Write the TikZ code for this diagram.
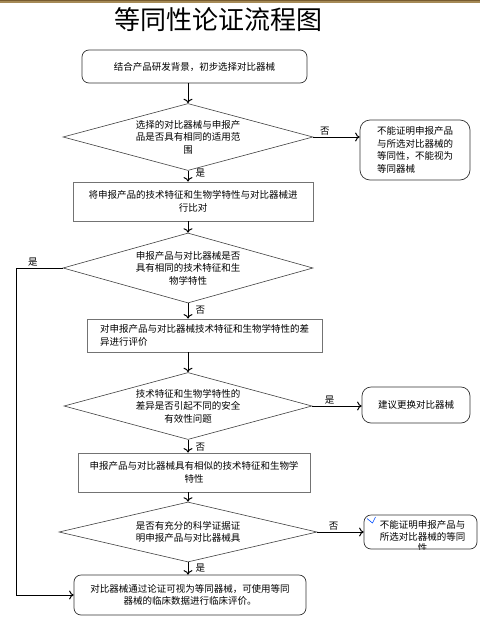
\documentclass[tikz,border=0pt]{standalone}
\usepackage{fontspec}
\setmainfont{Noto Sans CJK SC}
\usetikzlibrary{arrows.meta,shapes.geometric}

\definecolor{barbrown}{RGB}{165,138,86}
\definecolor{bardark}{RGB}{120,92,48}
\definecolor{boxgray}{RGB}{115,115,115}

\tikzset{
  txt/.style={font=\fontsize{9.5}{12.5}\selectfont, align=center},
  terminal/.style={txt, draw=black!80, line width=0.7pt, rounded corners=7pt, inner sep=0pt},
  process/.style={txt, draw=boxgray, line width=0.8pt, inner sep=0pt},
  decision/.style={txt, diamond, draw=black!75, line width=0.6pt, aspect=3.7, inner sep=0pt},
  flow/.style={-{To[length=4.5pt,width=9pt]}, line width=1pt},
  lbl/.style={font=\fontsize{9.5}{11}\selectfont, inner sep=1pt}
}

\begin{document}
\begin{tikzpicture}[x=1pt,y=-1pt]
\useasboundingbox (0,0) rectangle (480,619);
\fill[bardark] (0,0) rectangle (480,1);
\fill[barbrown] (0,1) rectangle (480,2.6);

\node (title) at (218,20) {\fontsize{26}{26}\selectfont 等同性论证流程图};

\node[terminal, minimum width=225pt, minimum height=33pt] (start) at (194.5,66.5) {结合产品研发背景，初步选择对比器械};
\node[decision, minimum width=250pt, minimum height=67pt] (scope) at (188,137) {选择的对比器械与申报产\\品是否具有相同的适用范\\围};
\node[terminal, rounded corners=10pt, align=left, minimum width=110pt, minimum height=60pt] (notequal) at (415,150) {不能证明申报产品\\与所选对比器械的\\等同性，不能视为\\等同器械};
\node[process, minimum width=240pt, minimum height=39pt] (compare) at (193,201.5) {将申报产品的技术特征和生物学特性与对比器械进\\行比对};
\node[decision, minimum width=250pt, minimum height=70pt] (same) at (188,268) {申报产品与对比器械是否\\具有相同的技术特征和生\\物学特性};
\node[process, align=left, minimum width=235pt, minimum height=33pt] (evaluate) at (204.5,335.5) {对申报产品与对比器械技术特征和生物学特性的差\\异进行评价};
\node[decision, minimum width=248pt, minimum height=67pt] (safety) at (188,406) {技术特征和生物学特性的\\差异是否引起不同的安全\\有效性问题};
\node[terminal, rounded corners=9pt, minimum width=108pt, minimum height=36pt] (replace) at (416,405) {建议更换对比器械};
\node[process, minimum width=232pt, minimum height=39pt] (similar) at (194,472.5) {申报产品与对比器械具有相似的技术特征和生物学\\特性};
\node[decision, minimum width=258pt, minimum height=60pt] (evidence) at (188,532) {是否有充分的科学证据证\\明申报产品与对比器械具};
\node[terminal, minimum width=113pt, minimum height=34pt,
  path picture={\node[txt, font=\fontsize{9.5}{11.5}\selectfont] at ([xshift=2pt,yshift=-4.5pt]path picture bounding box.center) {不能证明申报产品与\\所选对比器械的等同\\性};}] (notproved) at (420.5,532) {};
\node[terminal, minimum width=232pt, minimum height=40pt] (final) at (190,595) {对比器械通过论证可视为等同器械，可使用等同\\器械的临床数据进行临床评价。};

\draw[blue!70!cyan, line width=0.6pt] (367,518.5) -- (372.5,523) -- (375.5,517);

\draw[flow] (scope.north |- start.south) -- (scope.north);
\draw[flow] (scope.east) -- node[lbl, above, pos=0.25] {否} (scope.east -| notequal.west);
\draw[flow] (scope.south) -- node[lbl, right=6pt, pos=0.25] {是} (scope.south |- compare.north);
\draw[flow] (same.north |- compare.south) -- (same.north);
\draw[flow] (same.south) -- node[lbl, right=6pt, pos=0.45] {否} (same.south |- evaluate.north);
\draw[flow] (same.west) -- node[lbl, above, pos=0.64] {是} (16,268) |- (final.west);
\draw[flow] (safety.north |- evaluate.south) -- (safety.north);
\draw[flow] (safety.east) -- node[lbl, above, pos=0.35] {是} (safety.east -| replace.west);
\draw[flow] (safety.south) -- node[lbl, right=6pt, pos=0.6] {否} (safety.south |- similar.north);
\draw[flow] (evidence.north |- similar.south) -- (evidence.north);
\draw[flow] (evidence.east) -- node[lbl, above, pos=0.35] {否} (evidence.east -| notproved.west);
\draw[flow] (evidence.south) -- node[lbl, right=6pt, pos=0.5] {是} (evidence.south |- final.north);
\end{tikzpicture}
\end{document}
